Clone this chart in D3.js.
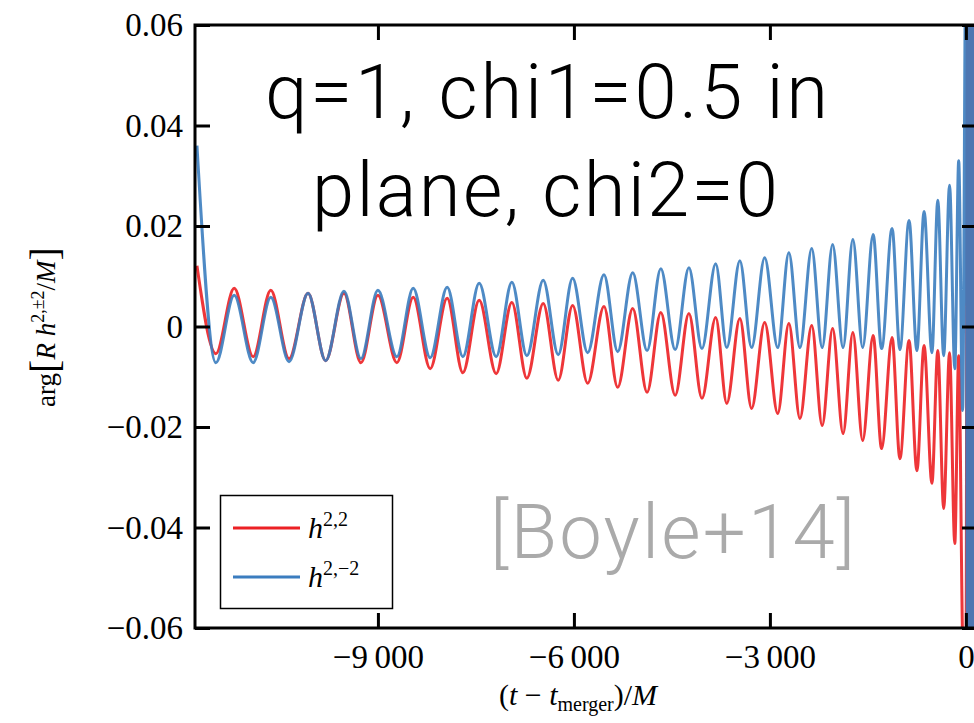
<!DOCTYPE html>
<html>
<head>
<meta charset="utf-8">
<script src="https://cdn.jsdelivr.net/npm/d3@7"></script>
<style>
  body { margin: 0; background: #fff; }
  svg { display: block; }
</style>
</head>
<body>
<svg id="chart" width="974" height="723"></svg>
<script>
// times of the extrema (t - t_merger)/M
const tExt = [-11770, -11480, -11200, -10910, -10640, -10360, -10070, -9800, -9520, -9260,
  -9000, -8710, -8460, -8200, -7940, -7700, -7450, -7190, -6950, -6720,
  -6470, -6240, -6020, -5790, -5540, -5330, -5100, -4880, -4670, -4450,
  -4240, -4040, -3830, -3660, -3460, -3280, -3080, -2880, -2710, -2540,
  -2360, -2200, -2040, -1880, -1730, -1580, -1420, -1290, -1130, -1010,
  -870, -750, -640, -520, -430, -340, -250, -170, -110, -50];

// arg[R h^{2,2}/M] at those times
const h22 = [0.0121, -0.0054, 0.0076, -0.0060, 0.0072, -0.0064, 0.0066, -0.0068, 0.0066, -0.0072,
  0.0062, -0.0072, 0.0058, -0.0084, 0.0056, -0.0092, 0.0052, -0.0094, 0.0048, -0.0103,
  0.0046, -0.0107, 0.0042, -0.0113, 0.0040, -0.0121, 0.0036, -0.0131, 0.0028, -0.0137,
  0.0026, -0.0143, 0.0018, -0.0153, 0.0016, -0.0163, 0.0008, -0.0173, 0.0006, -0.0183,
  0.0002, -0.0197, -0.0004, -0.0213, -0.0012, -0.0227, -0.0018, -0.0243, -0.0022, -0.0263,
  -0.0028, -0.0287, -0.0038, -0.0312, -0.0048, -0.0362, -0.0052, -0.0432, -0.0058, -0.0625];

// arg[R h^{2,-2}/M] at those times
const h2m2 = [0.0360, -0.0072, 0.0062, -0.0072, 0.0058, -0.0070, 0.0066, -0.0068, 0.0070, -0.0064,
  0.0072, -0.0060, 0.0076, -0.0062, 0.0078, -0.0060, 0.0086, -0.0060, 0.0088, -0.0058,
  0.0092, -0.0056, 0.0096, -0.0052, 0.0103, -0.0050, 0.0107, -0.0048, 0.0115, -0.0046,
  0.0117, -0.0044, 0.0125, -0.0042, 0.0131, -0.0042, 0.0137, -0.0042, 0.0147, -0.0042,
  0.0155, -0.0042, 0.0163, -0.0042, 0.0173, -0.0042, 0.0183, -0.0044, 0.0195, -0.0046,
  0.0211, -0.0048, 0.0229, -0.0052, 0.0251, -0.0058, 0.0281, -0.0084, 0.0330, -0.0167];

// ringdown, phase runs off the scale
const tRing = [0, 25, 50, 75, 100, 125, 150];
const h22Ring = [-0.075, 0.075, -0.075, 0.075, -0.075, 0.075, -0.075];
const h2m2Ring = [0.075, -0.075, 0.075, -0.075, 0.075, -0.075, 0.075];

const xTicks = [-9000, -6000, -3000, 0];
const yTicks = [-0.06, -0.04, -0.02, 0, 0.02, 0.04, 0.06];

const colors = { h22: "#ec2024", h2m2: "#3b7dbf" };

const svg = d3.select("#chart");
const plot = { left: 195, right: 977, top: 25, bottom: 628 };

const x = d3.scaleLinear().domain([-11800, 170]).range([plot.left, plot.right]);
const y = d3.scaleLinear().domain([-0.06, 0.06]).range([plot.bottom, plot.top]);

const loc = d3.formatLocale({ decimal: ".", thousands: "\u2009", grouping: [3], currency: ["", ""], minus: "\u2212" });
const fx = loc.format(",");
const fy = d => d === 0 ? "0" : loc.format(".2f")(d);

svg.append("rect").attr("width", 974).attr("height", 723).attr("fill", "#fff");

svg.append("clipPath").attr("id", "clip")
  .append("rect")
  .attr("x", plot.left).attr("y", plot.top)
  .attr("width", plot.right - plot.left).attr("height", plot.bottom - plot.top);

const series = (vals, ring) => tExt.map((t, i) => ({ t: t, v: vals[i] }))
  .concat(tRing.map((t, i) => ({ t: t, v: ring[i] })));

const line = d3.line()
  .x(d => x(d.t))
  .y(d => y(d.v))
  .curve(d3.curveMonotoneX);

const g = svg.append("g").attr("clip-path", "url(#clip)");
g.append("path").datum(series(h22, h22Ring))
  .attr("fill", "none").attr("stroke", colors.h22).attr("stroke-width", 3)
  .attr("stroke-opacity", 0.9).attr("d", line);
g.append("path").datum(series(h2m2, h2m2Ring))
  .attr("fill", "none").attr("stroke", colors.h2m2).attr("stroke-width", 3)
  .attr("stroke-opacity", 0.9).attr("d", line);

// axes, ticks inward on all sides
const tickFont = "'Liberation Serif', 'Times New Roman', serif";

const yAxis = svg.append("g").attr("transform", "translate(" + plot.left + ",0)")
  .call(d3.axisLeft(y).tickValues(yTicks).tickSize(-15).tickPadding(12).tickFormat(fy));
const yAxisR = svg.append("g").attr("transform", "translate(" + plot.right + ",0)")
  .call(d3.axisRight(y).tickValues(yTicks).tickSize(-15).tickFormat(""));
const xAxis = svg.append("g").attr("transform", "translate(0," + plot.bottom + ")")
  .call(d3.axisBottom(x).tickValues(xTicks).tickSize(-15).tickPadding(17).tickFormat(fx));
const xAxisT = svg.append("g").attr("transform", "translate(0," + plot.top + ")")
  .call(d3.axisTop(x).tickValues(xTicks).tickSize(-15).tickFormat(""));

[yAxis, yAxisR, xAxis, xAxisT].forEach(a => {
  a.select(".domain").remove();
  a.selectAll(".tick line").attr("stroke", "#000").attr("stroke-width", 3);
  a.selectAll(".tick text").attr("font-family", tickFont).attr("font-size", 33).attr("fill", "#000");
});

svg.append("path")
  .attr("d", "M" + (plot.right) + "," + plot.top + "H" + plot.left + "V" + plot.bottom + "H" + plot.right)
  .attr("fill", "none").attr("stroke", "#000").attr("stroke-width", 3);
svg.append("line")
  .attr("x1", plot.right).attr("x2", plot.right).attr("y1", plot.top).attr("y2", plot.bottom)
  .attr("stroke", "#000").attr("stroke-width", 3);

// axis titles
const xt = svg.append("text")
  .attr("x", 578).attr("y", 705).attr("text-anchor", "middle")
  .attr("font-family", tickFont).attr("font-size", 30);
xt.append("tspan").text("(");
xt.append("tspan").attr("font-style", "italic").text("t");
xt.append("tspan").text(" \u2212 ");
xt.append("tspan").attr("font-style", "italic").text("t");
xt.append("tspan").attr("font-size", 20).attr("dy", 6).text("merger");
xt.append("tspan").attr("dy", -6).text(")/");
xt.append("tspan").attr("font-style", "italic").text("M");

const yt = svg.append("text")
  .attr("transform", "translate(55,327) rotate(-90)")
  .attr("text-anchor", "middle")
  .attr("font-family", tickFont).attr("font-size", 27);
yt.append("tspan").text("arg");
yt.append("tspan").attr("font-size", 40).attr("dy", 3).text("[");
yt.append("tspan").attr("font-style", "italic").attr("dy", -3).text("R h");
yt.append("tspan").attr("font-size", 18).attr("dy", -11).text("2,\u00b12");
yt.append("tspan").attr("dy", 11).text("/");
yt.append("tspan").attr("font-style", "italic").text("M");
yt.append("tspan").attr("font-size", 40).attr("dy", 3).text("]");

// legend
const legend = svg.append("g");
legend.append("rect")
  .attr("x", 220.5).attr("y", 495.5).attr("width", 172).attr("height", 113)
  .attr("fill", "#fff").attr("stroke", "#000").attr("stroke-width", 1.5);
const items = [
  { key: "h22", sup: "2,2", yy: 528 },
  { key: "h2m2", sup: "2,\u22122", yy: 577 }
];
items.forEach(it => {
  legend.append("line")
    .attr("x1", 233).attr("x2", 300).attr("y1", it.yy).attr("y2", it.yy)
    .attr("stroke", colors[it.key]).attr("stroke-width", 3);
  const t = legend.append("text")
    .attr("x", 308).attr("y", it.yy + 10)
    .attr("font-family", tickFont).attr("font-size", 30);
  t.append("tspan").attr("font-style", "italic").text("h");
  t.append("tspan").attr("font-size", 20).attr("dy", -12).text(it.sup);
});

// annotations
const noteFont = "Roboto, 'Open Sans', sans-serif";
[["q=1, chi1=0.5 in", 265, 118, 563], ["plane, chi2=0", 312, 216, 466]].forEach(d => {
  svg.append("text")
    .attr("x", d[1]).attr("y", d[2])
    .attr("textLength", d[3]).attr("lengthAdjust", "spacing")
    .attr("font-family", noteFont).attr("font-weight", 300).attr("font-size", 76)
    .attr("fill", "#000").text(d[0]);
});
svg.append("text")
  .attr("x", 490).attr("y", 558)
  .attr("textLength", 365).attr("lengthAdjust", "spacing")
  .attr("font-family", noteFont).attr("font-weight", 300).attr("font-size", 76)
  .attr("fill", "#aaaaaa").text("[Boyle+14]");
</script>
</body>
</html>
